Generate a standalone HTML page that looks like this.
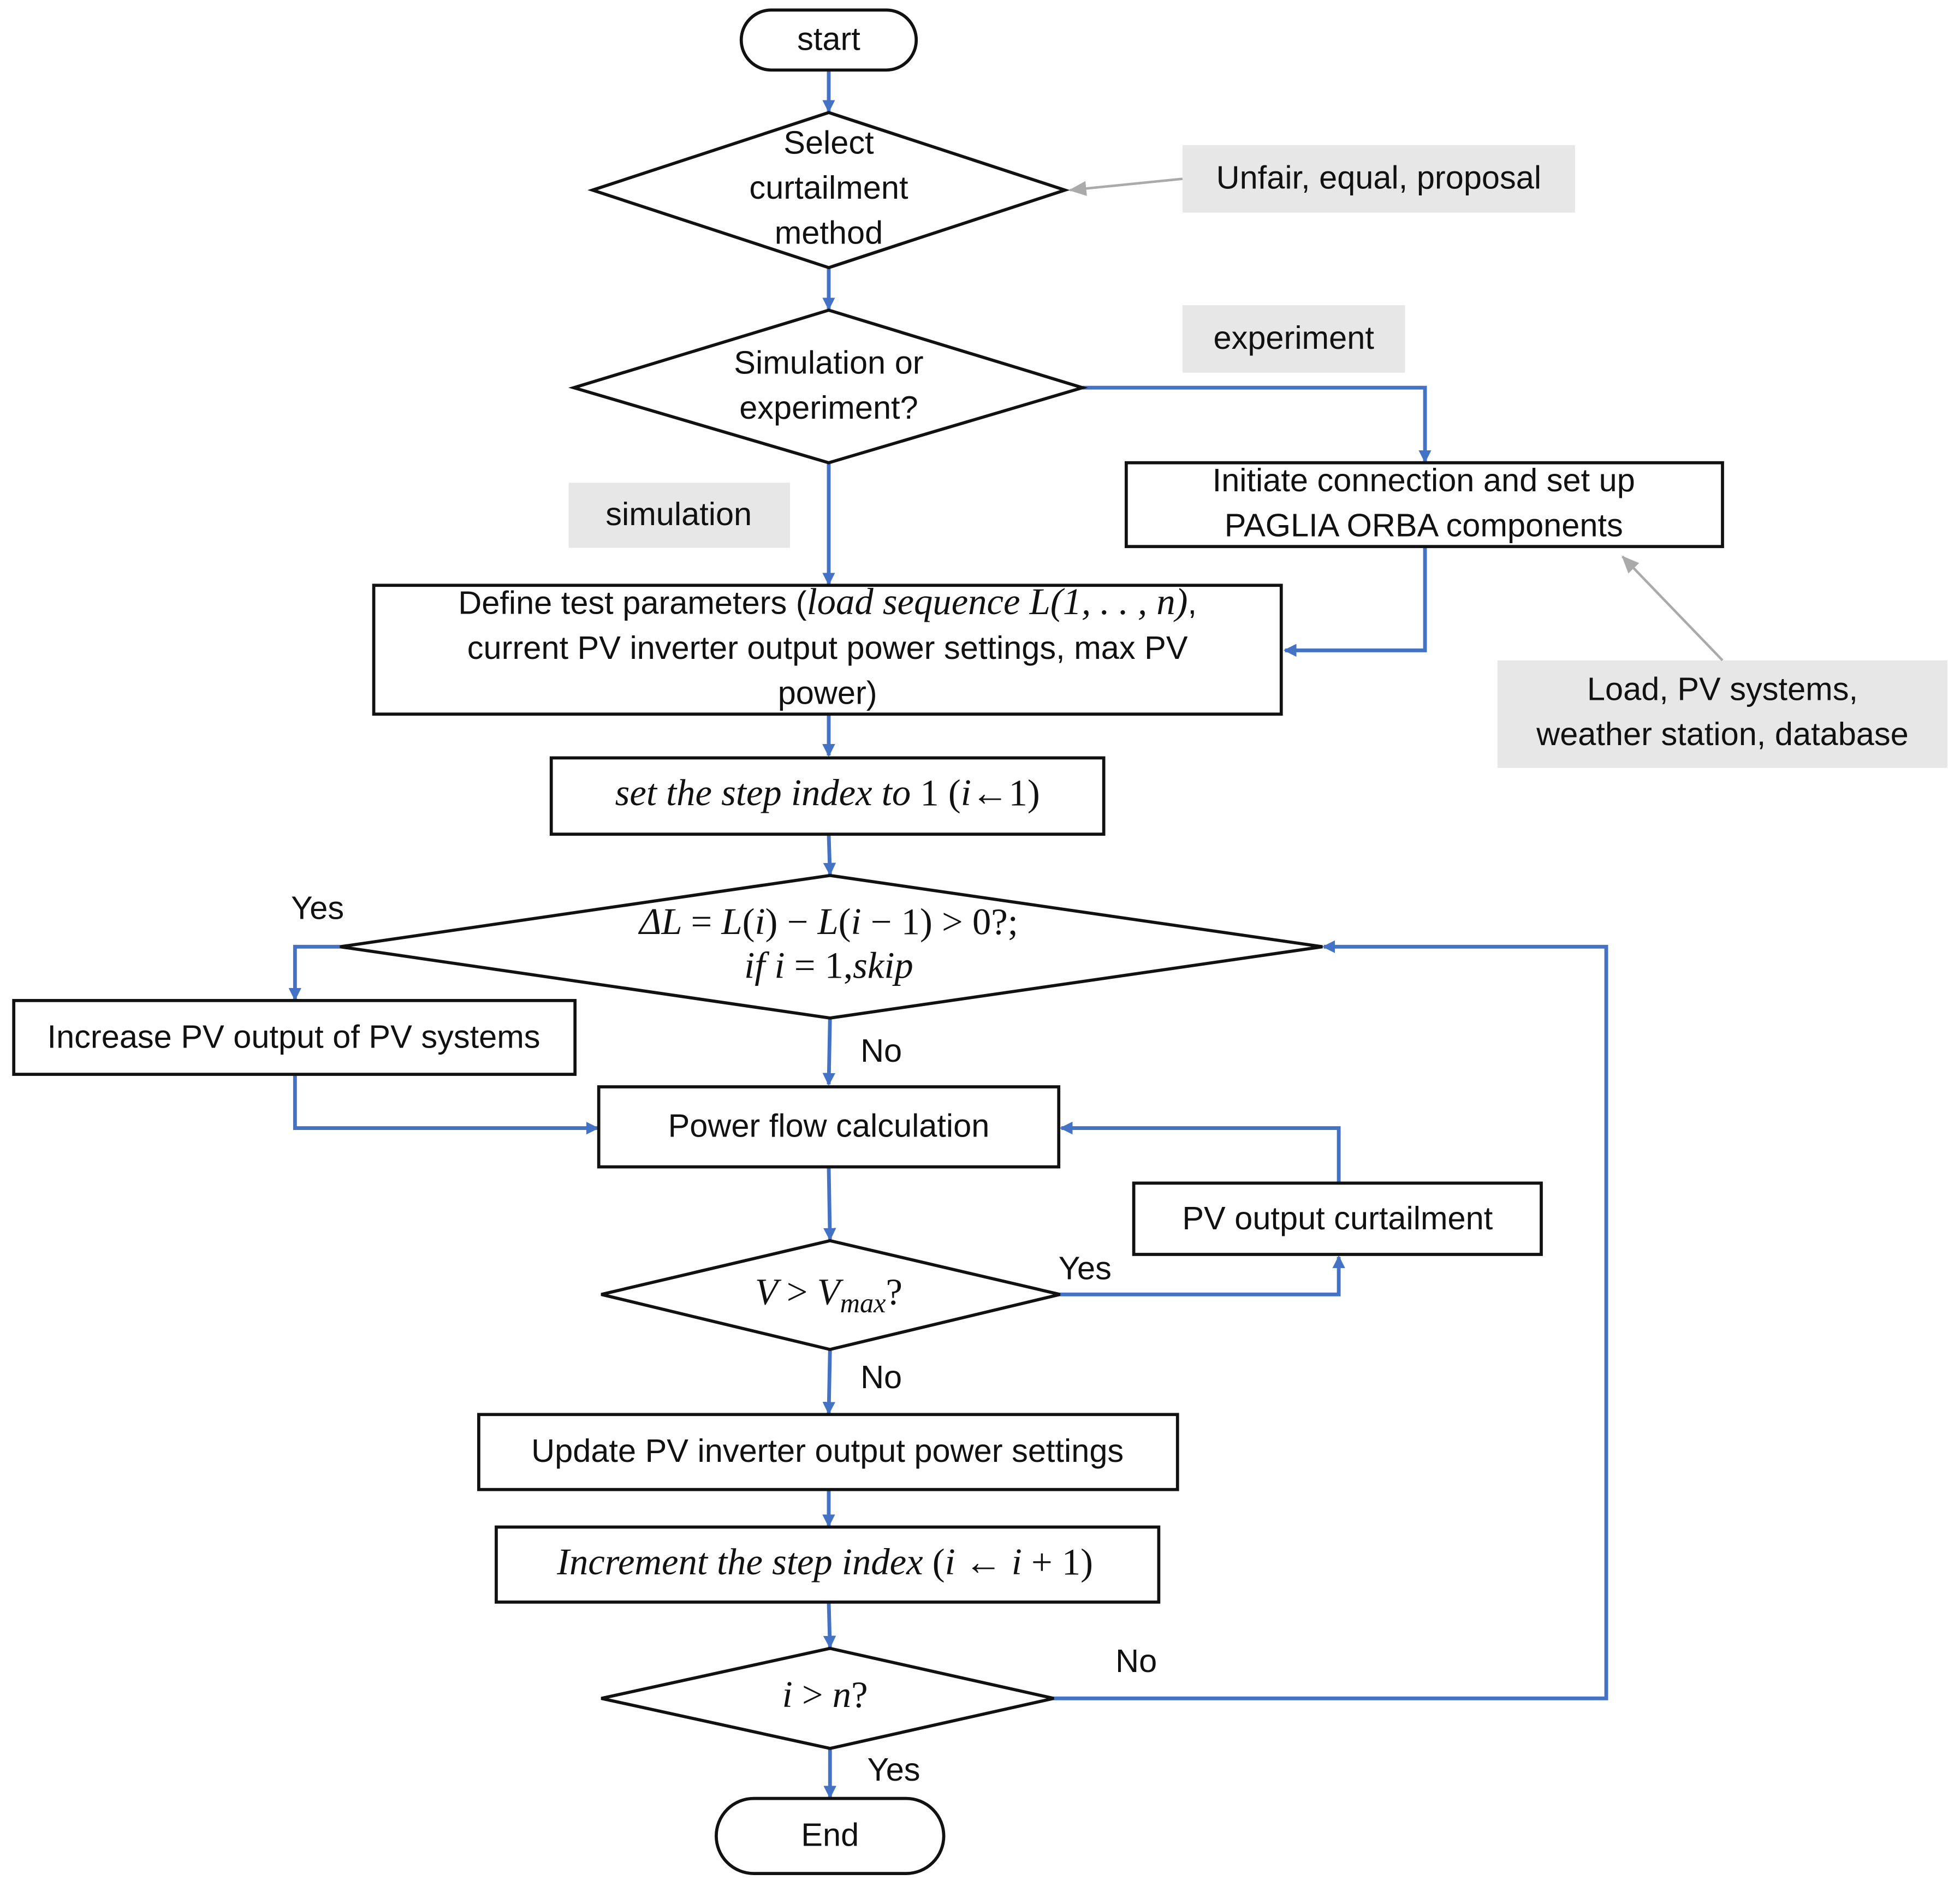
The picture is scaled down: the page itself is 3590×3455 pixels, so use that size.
<!DOCTYPE html>
<html><head><meta charset="utf-8"><style>
html,body{margin:0;padding:0;background:#fff;}
svg{display:block;}
text{font-family:"Liberation Sans",sans-serif;font-size:26px;fill:#111;text-anchor:middle;dominant-baseline:middle;}
.m{font-family:"Liberation Serif",serif;font-style:italic;font-size:30px;}
.b{fill:none;stroke:#4472C4;stroke-width:3;}
.k{fill:#fff;stroke:#111;stroke-width:2.5;}
.g{fill:#e7e7e7;stroke:none;}
</style></head><body>
<svg width="3590" height="3455" viewBox="0 0 1568 1508" preserveAspectRatio="none" xmlns="http://www.w3.org/2000/svg">
<defs>
<marker id="a" markerWidth="10" markerHeight="10" refX="9" refY="5" orient="auto" markerUnits="userSpaceOnUse"><path d="M0,0 L10,5 L0,10 z" fill="#4472C4" transform="scale(1.2) translate(-1.5,-0.8)"/></marker>
<marker id="ga" markerWidth="14" markerHeight="14" refX="13" refY="6" orient="auto" markerUnits="userSpaceOnUse"><path d="M0,0 L14,6 L0,12 z" fill="#aaa"/></marker>
</defs>
<rect width="1568" height="1508" fill="#fff"/>
<rect class="g" x="946" y="116" width="314" height="54"/>
<text x="1103" y="144">Unfair, equal, proposal</text>
<line x1="946" y1="143" x2="856" y2="152" stroke="#aaa" stroke-width="2" marker-end="url(#ga)"/>
<rect class="g" x="946" y="244" width="178" height="54"/>
<text x="1035" y="272">experiment</text>
<rect class="g" x="455" y="386" width="177" height="52"/>
<text x="543" y="413">simulation</text>
<rect class="g" x="1198" y="528" width="360" height="86"/>
<text x="1378" y="553">Load, PV systems,</text>
<text x="1378" y="589">weather station, database</text>
<line x1="1378" y1="528" x2="1298" y2="445" stroke="#aaa" stroke-width="2" marker-end="url(#ga)"/>
<line class="b" x1="663" y1="56" x2="663" y2="89" marker-end="url(#a)"/>
<line class="b" x1="663" y1="214" x2="663" y2="247" marker-end="url(#a)"/>
<polyline class="b" points="866,310 1140,310 1140,369" marker-end="url(#a)"/>
<polyline class="b" points="1140,437 1140,520 1028,520" marker-end="url(#a)"/>
<line class="b" x1="663" y1="370" x2="663" y2="467" marker-end="url(#a)"/>
<line class="b" x1="663" y1="571" x2="663" y2="604" marker-end="url(#a)"/>
<line class="b" x1="663" y1="667" x2="664" y2="699" marker-end="url(#a)"/>
<polyline class="b" points="272,757 236,757 236,799" marker-end="url(#a)"/>
<polyline class="b" points="236,859 236,902 478,902" marker-end="url(#a)"/>
<line class="b" x1="664" y1="814" x2="663" y2="867" marker-end="url(#a)"/>
<line class="b" x1="663" y1="933" x2="664" y2="991" marker-end="url(#a)"/>
<polyline class="b" points="848,1035 1071,1035 1071,1005" marker-end="url(#a)"/>
<polyline class="b" points="1071,946 1071,902 849,902" marker-end="url(#a)"/>
<line class="b" x1="664" y1="1079" x2="663" y2="1130" marker-end="url(#a)"/>
<line class="b" x1="663" y1="1191" x2="663" y2="1220" marker-end="url(#a)"/>
<line class="b" x1="663" y1="1281" x2="664" y2="1317" marker-end="url(#a)"/>
<polyline class="b" points="843,1358 1285,1358 1285,757 1059,757" marker-end="url(#a)"/>
<line class="b" x1="664" y1="1398" x2="664" y2="1437" marker-end="url(#a)"/>
<rect class="k" x="593" y="8" width="140" height="48" rx="24"/>
<text x="663" y="33">start</text>
<polygon class="k" points="474,152 663,90 852,152 663,214"/>
<text x="663" y="116">Select</text><text x="663" y="152">curtailment</text><text x="663" y="188">method</text>
<polygon class="k" points="459,310 663,248 866,310 663,370"/>
<text x="663" y="292">Simulation or</text><text x="663" y="328">experiment?</text>
<rect class="k" x="901" y="370" width="477" height="67"/>
<text x="1139" y="386">Initiate connection and set up</text><text x="1139" y="422">PAGLIA ORBA components</text>
<rect class="k" x="299" y="468" width="726" height="103"/>
<text x="662" y="484">Define test parameters (<tspan class="m">load sequence L</tspan><tspan class="m" font-style="normal">(1, . . , </tspan><tspan class="m">n</tspan><tspan class="m" font-style="normal">)</tspan>,</text>
<text x="662" y="520">current PV inverter output  power settings, max PV</text>
<text x="662" y="556">power)</text>
<rect class="k" x="441" y="606" width="442" height="61"/>
<text x="662" y="637" class="m">set the step index to <tspan font-style="normal">1 (</tspan>i<tspan font-style="normal">←1)</tspan></text>
<polygon class="k" points="272,757 664,700 1058,757 664,814"/>
<text x="663" y="740" class="m">ΔL <tspan font-style="normal">=</tspan> L<tspan font-style="normal">(</tspan>i<tspan font-style="normal">) − </tspan>L<tspan font-style="normal">(</tspan>i<tspan font-style="normal"> − 1) &gt; 0?;</tspan></text>
<text x="663" y="775" class="m">if i <tspan font-style="normal">= 1,</tspan>skip</text>
<text x="254" y="728">Yes</text>
<rect class="k" x="11" y="800" width="449" height="59"/>
<text x="235" y="831">Increase PV output of PV systems</text>
<text x="705" y="842">No</text>
<rect class="k" x="479" y="869" width="368" height="64"/>
<text x="663" y="902">Power flow calculation</text>
<rect class="k" x="907" y="946" width="326" height="57"/>
<text x="1070" y="976">PV output curtailment</text>
<polygon class="k" points="481,1035 664,992 848,1035 664,1079"/>
<text x="663" y="1036" class="m">V <tspan font-style="normal">&gt;</tspan> V<tspan font-size="22" dy="8">max</tspan><tspan font-style="normal" dy="-8">?</tspan></text>
<text x="868" y="1016">Yes</text>
<text x="705" y="1103">No</text>
<rect class="k" x="383" y="1131" width="559" height="60"/>
<text x="662" y="1162">Update PV inverter output power settings</text>
<rect class="k" x="397" y="1221" width="530" height="60"/>
<text x="660" y="1252" class="m">Increment the step index <tspan font-style="normal">(</tspan>i <tspan font-style="normal">←</tspan> i <tspan font-style="normal">+ 1)</tspan></text>
<polygon class="k" points="481,1358 664,1318 843,1358 664,1398"/>
<text x="660" y="1358" class="m">i <tspan font-style="normal">&gt;</tspan>  n<tspan font-style="normal">?</tspan></text>
<text x="909" y="1330">No</text>
<text x="715" y="1417">Yes</text>
<rect class="k" x="573" y="1438" width="182" height="60" rx="30"/>
<text x="664" y="1469">End</text>
</svg>
</body></html>
